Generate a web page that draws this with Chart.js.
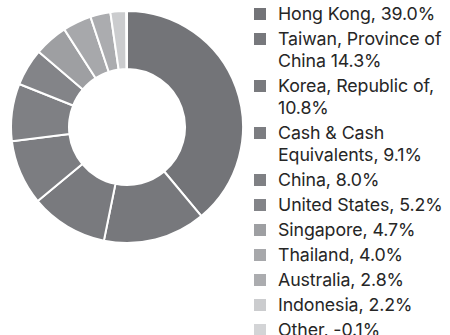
<!DOCTYPE html>
<html>
<head>
<meta charset="utf-8">
<script src="https://cdn.jsdelivr.net/npm/chart.js@4/dist/chart.umd.min.js"></script>
<style>
    html, body { margin: 0; padding: 0; background: #fff; }
    body { width: 450px; height: 335px; position: relative; overflow: hidden; font-family: Inter, "Noto Sans", sans-serif; }
    #chartBox { position: absolute; left: 10px; top: 10px; width: 234px; height: 234px; }
    #legend { position: absolute; left: 254px; top: 3px; width: 196px; margin: 0; padding: 0; list-style: none; }
    #legend li { position: relative; padding-left: 24px; font-size: 17.8px; line-height: 22px; color: #262626; margin-bottom: 3px; letter-spacing: -0.1px; }
    #legend li span.box { position: absolute; left: 0; top: 5px; width: 12px; height: 12px; }
</style>
</head>
<body>
<div id="chartBox"><canvas id="allocChart"></canvas></div>
<ul id="legend"></ul>
<script>
// Country allocation
const countries = [
    'Hong Kong', 'Taiwan, Province of China', 'Korea, Republic of,', 'Cash & Cash Equivalents,',
    'China,', 'United States,', 'Singapore,', 'Thailand,', 'Australia,', 'Indonesia,', 'Other,'
];
const labelText = [
    'Hong Kong, 39.0%', 'Taiwan, Province of China 14.3%', 'Korea, Republic of, 10.8%',
    'Cash & Cash Equivalents, 9.1%', 'China, 8.0%', 'United States, 5.2%', 'Singapore, 4.7%',
    'Thailand, 4.0%', 'Australia, 2.8%', 'Indonesia, 2.2%', 'Other, -0.1%'
];
const weights = [39.0, 14.3, 10.8, 9.1, 8.0, 5.2, 4.7, 4.0, 2.8, 2.2, -0.1];
const shades = [
    '#737478', '#77787c', '#797a7e', '#7c7d81', '#7f8084', '#838488',
    '#9e9fa2', '#a7a8ab', '#abacaf', '#cbccce', '#d3d4d6'
];

// Build legend list
const legend = document.getElementById('legend');
labelText.forEach((txt, i) => {
    const li = document.createElement('li');
    li.innerHTML = `<span class="box" style="background:${shades[i]}"></span>${txt}`;
    legend.appendChild(li);
});

const ctx = document.getElementById('allocChart').getContext('2d');
new Chart(ctx, {
    type: 'doughnut',
    data: {
        labels: countries,
        datasets: [{
            data: weights,
            backgroundColor: shades,
            borderColor: '#ffffff',
            borderWidth: 2
        }]
    },
    options: {
        responsive: true,
        maintainAspectRatio: false,
        animation: false,
        cutout: '50%',
        plugins: {
            legend: { display: false },
            tooltip: { enabled: false }
        }
    }
});
</script>
</body>
</html>
